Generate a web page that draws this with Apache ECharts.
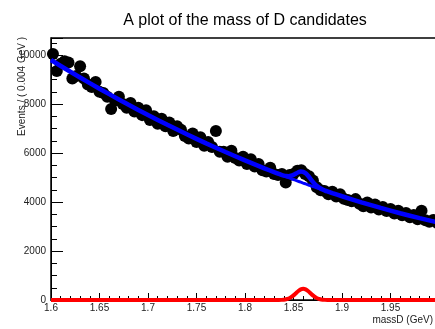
<!DOCTYPE html>
<html>
<head>
<meta charset="utf-8">
<script src="https://cdn.jsdelivr.net/npm/echarts@6/dist/echarts.min.js"></script>
<style>
html,body{margin:0;padding:0;background:#fff;}
#chart{width:435px;height:329px;}
</style>
</head>
<body>
<div id="chart"></div>
<script>
const titleText = "A plot of the mass of D candidates";
const xTitle = "massD (GeV)";
const yTitle = "Events / ( 0.004 GeV )";

const massBins = [
1.602,1.606,1.610,1.614,1.618,1.622,1.626,1.630,1.634,1.638,
1.642,1.646,1.650,1.654,1.658,1.662,1.666,1.670,1.674,1.678,
1.682,1.686,1.690,1.694,1.698,1.702,1.706,1.710,1.714,1.718,
1.722,1.726,1.730,1.734,1.738,1.742,1.746,1.750,1.754,1.758,
1.762,1.766,1.770,1.774,1.778,1.782,1.786,1.790,1.794,1.798,
1.802,1.806,1.810,1.814,1.818,1.822,1.826,1.830,1.834,1.838,
1.842,1.846,1.850,1.854,1.858,1.862,1.866,1.870,1.874,1.878,
1.882,1.886,1.890,1.894,1.898,1.902,1.906,1.910,1.914,1.918,
1.922,1.926,1.930,1.934,1.938,1.942,1.946,1.950,1.954,1.958,
1.962,1.966,1.970,1.974,1.978,1.982,1.986,1.990,1.994,1.998];

const eventCounts = [
10050,9350,9650,9750,9700,9050,9150,9550,9050,8800,
8700,8900,8500,8450,8300,7800,8150,8300,8000,7850,
8050,7700,7850,7550,7750,7350,7500,7200,7400,7100,
7250,6900,7100,6950,6700,6600,6800,6450,6650,6300,
6450,6250,6900,6050,6050,5850,6100,5800,5700,5850,
5550,5750,5450,5550,5300,5250,5400,5150,5100,5150,
4800,5100,5150,5280,5300,5150,5050,4880,4600,4480,
4450,4320,4420,4230,4320,4130,4080,4030,4120,3930,
3830,3980,3780,3900,3700,3800,3630,3720,3530,3650,
3460,3550,3380,3470,3300,3650,3260,3200,3270,3150];

const curveMass = [
1.60,1.62,1.64,1.66,1.68,1.70,1.72,1.74,1.76,1.78,1.80,1.82,1.83,
1.835,1.8375,1.84,1.8425,1.845,1.8475,1.85,1.8525,1.855,1.8575,1.86,
1.8625,1.865,1.8675,1.87,1.8725,1.875,1.8775,1.88,1.8825,1.885,
1.89,1.90,1.92,1.94,1.96,1.98,2.00];

const bkgCurve = [
9800,9320,8856,8407,7974,7557,7155,6768,6397,6042,5702,5378,5222,
5145,5107,5069,5032,4995,4958,4921,4884,4848,4812,4776,
4741,4705,4670,4636,4601,4567,4533,4499,4465,4432,
4366,4237,3990,3760,3544,3345,3160];

const sigCurve = [
0,0,0,0,0,0,0,0,0,0,0,0,0,
2,5,13,30,62,115,189,279,368,435,460,
435,368,279,189,115,62,30,13,5,2,
0,0,0,0,0,0,0];

const totalCurve = bkgCurve.map((v, i) => v + sigCurve[i]);

const chart = echarts.init(document.getElementById('chart'), null, {renderer: 'canvas'});
const fontFam = '"Liberation Sans", Arial, Helvetica, sans-serif';

chart.setOption({
  animation: false,
  backgroundColor: '#ffffff',
  title: {
    text: titleText,
    left: 240, top: 8, textAlign: 'center',
    textStyle: {fontFamily: fontFam, fontSize: 16, fontWeight: 'normal', color: '#000'}
  },
  grid: {
    left: 51, top: 38, width: 388, height: 262,
    show: true, borderColor: '#000', borderWidth: 1.5,
    containLabel: false, outerBoundsMode: 'none'
  },
  xAxis: {
    type: 'value', min: 1.6, max: 2.0, interval: 0.05,
    axisLine: {show: true, onZero: false, lineStyle: {color: '#000', width: 1}},
    axisTick: {show: true, inside: true, length: 7, lineStyle: {color: '#000', width: 1}},
    minorTick: {show: true, splitNumber: 5, length: 4, lineStyle: {color: '#000', width: 1}},
    splitLine: {show: false},
    axisLabel: {fontFamily: fontFam, fontSize: 10, color: '#222', margin: 3, showMaxLabel: false}
  },
  yAxis: {
    type: 'value', min: 0, max: 10700, interval: 2000,
    axisLine: {show: true, onZero: false, lineStyle: {color: '#000', width: 1}},
    axisTick: {show: true, inside: true, length: 12, lineStyle: {color: '#000', width: 1}},
    minorTick: {show: true, splitNumber: 4, length: 6, lineStyle: {color: '#000', width: 1}},
    splitLine: {show: false},
    axisLabel: {fontFamily: fontFam, fontSize: 10, color: '#222', margin: 5, showMaxLabel: false,
      formatter: function (v) { return String(v); }}
  },
  graphic: [
    {type: 'text', right: 2, top: 315, style: {text: xTitle, font: '10px ' + fontFam, fill: '#222'}},
    {type: 'text', x: 22, y: 37, rotation: Math.PI / 2,
     style: {text: yTitle, font: '10px ' + fontFam, fill: '#222', align: 'right', verticalAlign: 'middle'}}
  ],
  series: [
    {
      type: 'scatter', name: 'data',
      data: massBins.map((m, i) => [m, eventCounts[i]]),
      symbol: 'circle', symbolSize: 12,
      itemStyle: {color: '#000', opacity: 1}, z: 2
    },
    {
      type: 'line', name: 'background',
      data: curveMass.map((m, i) => [m, bkgCurve[i]]),
      smooth: 0.3, showSymbol: false,
      lineStyle: {color: '#0000ff', width: 3}, z: 3
    },
    {
      type: 'line', name: 'total',
      data: curveMass.map((m, i) => [m, totalCurve[i]]),
      smooth: 0.3, showSymbol: false,
      lineStyle: {color: '#0000ff', width: 4.5}, z: 4
    },
    {
      type: 'line', name: 'signal',
      data: curveMass.map((m, i) => [m, sigCurve[i]]),
      smooth: 0.3, showSymbol: false, clip: false,
      lineStyle: {color: '#ff0000', width: 4}, z: 5
    }
  ]
});
</script>
</body>
</html>
